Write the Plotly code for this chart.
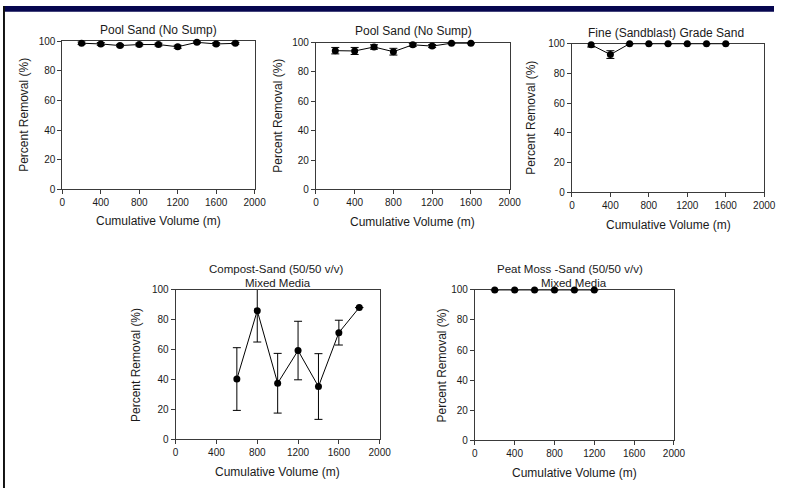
import plotly.graph_objects as go

W, H = 786, 494

# ---------------- data ----------------
titles = ["Pool Sand (No Sump)", "Pool Sand (No Sump)", "Fine (Sandblast) Grade Sand",
          "Compost-Sand (50/50 v/v)", "Peat Moss -Sand (50/50 v/v)"]
subtitles = ["", "", "", "Mixed Media", "Mixed Media"]
x_title = "Cumulative Volume (m)"
y_title = "Percent Removal (%)"
x_ticks = [0, 400, 800, 1200, 1600, 2000]
y_ticks = [0, 20, 40, 60, 80, 100]

vol1 = [200, 400, 600, 800, 1000, 1200, 1400, 1600, 1800]
rem1 = [98.6, 98.1, 97.0, 97.7, 97.7, 96.2, 99.2, 98.1, 98.5]
err1 = [0.8, 0.9, 0.8, 0.9, 0.9, 1.0, 0.6, 0.8, 0.6]

vol2 = [200, 400, 600, 800, 1000, 1200, 1400, 1600]
rem2 = [94.5, 94.3, 97.0, 93.8, 98.5, 97.6, 99.6, 99.6]
err2 = [2.2, 2.4, 1.5, 2.3, 1.0, 1.0, 0.4, 0.4]

vol3 = [200, 400, 600, 800, 1000, 1200, 1400, 1600]
rem3 = [99.2, 92.6, 99.9, 99.9, 99.9, 99.9, 99.9, 99.9]
err3 = [1.5, 2.6, 0.2, 0.2, 0.2, 0.2, 0.2, 0.2]

vol4 = [600, 800, 1000, 1200, 1400, 1600, 1800]
rem4 = [40.3, 86.1, 37.5, 59.4, 35.3, 71.4, 88.2]
err4 = [21.0, 21.0, 20.0, 19.6, 22.0, 8.3, 0.0]

vol5 = [200, 400, 600, 800, 1000, 1200]
rem5 = [100, 100, 100, 100, 100, 100]
err5 = [0, 0, 0, 0, 0, 0]

series = [(vol1, rem1, err1), (vol2, rem2, err2), (vol3, rem3, err3),
          (vol4, rem4, err4), (vol5, rem5, err5)]

# ---------------- layout geometry (pixels) ----------------
boxes = [  # left, right, top, bottom
    (60.5, 256.5, 36, 188),
    (319, 516.5, 37.5, 188),
    (580, 776, 38.5, 191),
    (176, 384, 291, 444),
    (481, 684, 291, 445),
]
title_pos = [(159, 25, None), (418, 26, None), (676, 28, None), (278, 269.5, 283.5), (578, 269.5, 283.5)]
xtitle_y = [220, 221, 224, 478, 479]
ytitle_x = [22, 280, 538, 135, 448]

FONT = "Arial, Liberation Sans, sans-serif"
AX = "#3a3a3a"
TXT = "#1a1a1a"

fig = go.Figure()
annotations = []
for i, ((vx, vy, ve), (l, r, t, b)) in enumerate(zip(series, boxes)):
    n = i + 1
    xa = "x" if n == 1 else f"x{n}"
    ya = "y" if n == 1 else f"y{n}"
    # error bars (clipped to the plot area)
    fig.add_trace(go.Scatter(
        x=vx, y=vy, mode="markers", marker=dict(size=0.1, color="black", opacity=0),
        error_y=dict(type="data", array=ve, visible=True, color="black", thickness=1, width=4),
        xaxis=xa, yaxis=ya, showlegend=False, hoverinfo="skip", cliponaxis=True))
    # line + markers
    fig.add_trace(go.Scatter(
        x=vx, y=vy, mode="lines+markers",
        line=dict(color="black", width=1),
        marker=dict(size=7, color="black"),
        xaxis=xa, yaxis=ya, showlegend=False, cliponaxis=False))

    axis_common = dict(showline=True, linecolor=AX, linewidth=1, mirror=True,
                       ticks="outside", ticklen=4, tickcolor=AX, tickwidth=1,
                       showgrid=False, zeroline=False, layer="below traces",
                       tickfont=dict(family=FONT, size=10, color=TXT))
    fig.update_layout(**{
        ("xaxis" if n == 1 else f"xaxis{n}"): dict(
            domain=[l / W, r / W], anchor=ya, range=[0, 2000],
            tickvals=x_ticks, ticktext=[str(v) for v in x_ticks], **axis_common),
        ("yaxis" if n == 1 else f"yaxis{n}"): dict(
            domain=[1 - b / H, 1 - t / H], anchor=xa, range=[0, 100],
            tickvals=y_ticks, ticktext=[str(v) for v in y_ticks], **axis_common),
    })

    tx, ty, ty2 = title_pos[i]
    tsize = 11.5 if subtitles[i] else 12
    annotations.append(dict(text=titles[i], x=tx / W, y=1 - ty / H, xref="paper", yref="paper",
                            xanchor="center", yanchor="middle", showarrow=False, borderpad=0,
                            font=dict(family=FONT, size=tsize, color=TXT)))
    if subtitles[i]:
        annotations.append(dict(text=subtitles[i], x=((l + r) / 2) / W, y=1 - ty2 / H,
                                xref="paper", yref="paper", xanchor="center", yanchor="middle",
                                showarrow=False, borderpad=0,
                                font=dict(family=FONT, size=tsize, color=TXT)))
    annotations.append(dict(text=x_title, x=((l + r) / 2) / W, y=1 - xtitle_y[i] / H,
                            xref="paper", yref="paper", xanchor="center", yanchor="middle",
                            showarrow=False, font=dict(family=FONT, size=12, color=TXT)))
    annotations.append(dict(text=y_title, x=ytitle_x[i] / W, y=1 - ((t + b) / 2) / H,
                            xref="paper", yref="paper", xanchor="center", yanchor="middle",
                            textangle=-90, showarrow=False,
                            font=dict(family=FONT, size=12, color=TXT)))

shapes = [
    dict(type="rect", xref="paper", yref="paper", x0=0, x1=1, y0=1 - 6 / H, y1=1,
         fillcolor="#06064f", line=dict(width=0), layer="above"),
    dict(type="rect", xref="paper", yref="paper", x0=0, x1=2 / W, y0=0, y1=1,
         fillcolor="#111111", line=dict(width=0), layer="above"),
]

fig.update_layout(width=W, height=H, margin=dict(l=0, r=0, t=0, b=0),
                  paper_bgcolor="white", plot_bgcolor="white",
                  annotations=annotations, shapes=shapes, showlegend=False)

fig.write_html("out.html")
